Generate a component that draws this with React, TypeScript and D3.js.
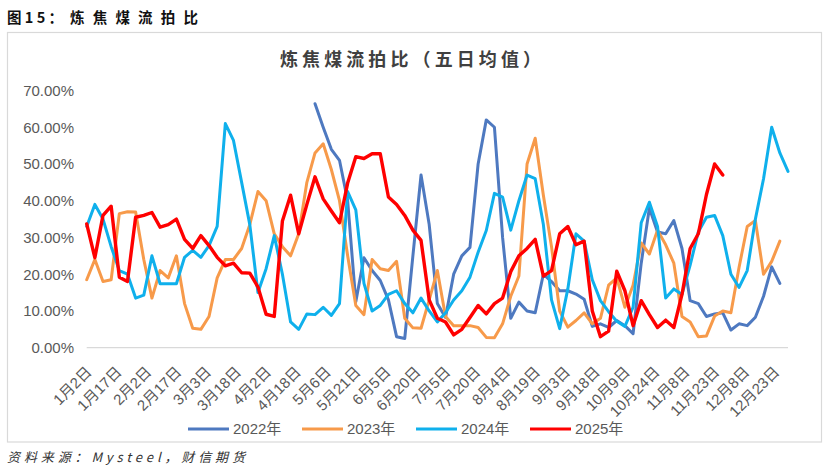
import React from "react";
import * as d3 from "d3";

const dateLabels = ["1月2日","1月17日","2月2日","2月17日","3月3日","3月18日","4月2日","4月18日","5月6日","5月21日","6月5日","6月20日","7月5日","7月20日","8月4日","8月19日","9月3日","9月18日","10月9日","10月24日","11月8日","11月23日","12月8日","12月23日"];
const labelEvery = 11; // trading days between labels
const sampleStep = 3; // trading days between stored samples
const totalDays = 258;

const yTicks = [0, 10, 20, 30, 40, 50, 60, 70];

const start2022 = 28;
const s2022 = [66.4,60,54,51,40,12.5,24.5,21,18.3,13,3,2.5,25,47,33.5,12,8.2,20,25,27.3,50,62,60,30,8,12.4,10,9.5,20,18,15.5,15.5,14.6,13.2,5.8,6.5,5.5,7.4,6,3.8,23,38,31.5,31,34.6,27,12.8,12,8.5,9.2,9.5,4.8,6.5,6,8.3,14,22,17.5];

const s2023 = [18.5,24,18,18.5,36.5,37,36.9,24,13.5,21,19,25,12,5.3,5,8.5,19,24,24,27,33.5,42.5,40,31,27.5,25,31,45,53,55.5,48.5,40,25,11.5,9,24,21.5,21,23.5,8,5.4,5.3,13,21,8.5,6,6,6,5.5,2.8,2.7,6.5,14,19.5,50,57,41.5,27.5,10,5.6,7.4,9.5,6.5,8,17,19,11,17,28.5,25.5,32,28,23,8.5,7,3,3.2,8.6,10,9.5,21.9,33,34.6,20,23.5,29];

const s2024 = [33,39,35,27.5,21,20,13.5,14.3,25,17.4,17.4,17.4,24.6,26.5,24.6,27.8,33,61,56.4,45,33.5,15,21.5,30.5,20,7,5,9.2,9,11,8.8,12,42.5,37.5,17.5,10,11.5,14.5,15.5,12,9.5,13.5,10,7,9.5,13,15.5,19.2,26,31.9,42,41,32,40,47,46,33.5,13,5.2,16,31,29,18.5,12.8,9.8,7.2,5.8,11,34,39.6,33,13.5,16,14.5,22.5,31.5,35.5,36,30.5,20,16.4,21,35,46,60,53,48];

const s2025 = [33.7,24.5,36,38.5,19.2,18,35.5,36,36.8,32.8,33.5,35,29.5,27,30.5,27.8,24.6,22.3,23,20.4,20.3,16.5,9.1,8.5,34.5,41.5,31,39,46.5,40.5,37.2,34,44.8,52,51.5,52.8,52.8,41,39,36,32,29.2,13,8,7,3.5,5,8.2,11.5,9.2,12,13.5,20.7,25,27,29.5,19.5,21,31,33,28,29,10,3,4.5,20.8,15.5,6,12.8,9,5.5,7.5,5.5,14.5,27,31,41.7,50,47];

const seriesNames = ["2022年", "2023年", "2024年", "2025年"];
const seriesColors = ["#4E79C0", "#F79A4A", "#0FB0EC", "#FF0000"];

const W = 830, H = 468;

export default function App() {
  const x = d3.scaleLinear().domain([0, totalDays]).range([86.7, 788]);
  const y = d3.scaleLinear().domain([0, 70]).range([347.7, 90.5]);

  const toPts = (vals: number[], startSample: number) =>
    vals.map((v, i) => [(startSample + i) * sampleStep, v] as [number, number]);

  const line = d3
    .line<[number, number]>()
    .x((d) => x(d[0]))
    .y((d) => y(d[1]));

  const series = [
    toPts(s2022, start2022),
    toPts(s2023, 0),
    toPts(s2024, 0),
    toPts(s2025, 0),
  ];
  const widths = [3, 3, 3, 3.4];

  const latin = '"Liberation Sans", Arial, "Noto Sans CJK SC", sans-serif';
  const cjk = '"Noto Sans CJK SC", sans-serif';
  const legendX = [188, 302, 416, 530];

  return (
    <svg width={W} height={H} style={{ position: "absolute", left: 0, top: 0, display: "block", background: "#fff" }}>
      <text x={7} y={22.5} fontFamily={cjk} fontWeight={700} fontSize={14.5} fill="#111" textLength={56} lengthAdjust="spacing">
        图15：
      </text>
      <text x={70} y={22.5} fontFamily={cjk} fontWeight={700} fontSize={14.5} fill="#111" textLength={128} lengthAdjust="spacing">
        炼焦煤流拍比
      </text>
      <rect x={7.5} y={32.5} width={814} height={409.5} fill="#fff" stroke="#D9D9D9" strokeWidth={1.2} />
      <text x={280} y={66} fontFamily={cjk} fontWeight={700} fontSize={18} fill="#404040" textLength={261} lengthAdjust="spacing">
        炼焦煤流拍比（五日均值）
      </text>

      {yTicks.map((t) => (
        <text key={t} x={74} y={y(t)} dy="0.36em" textAnchor="end" fontFamily={latin} fontSize={15} fill="#595959">
          {t.toFixed(2) + "%"}
        </text>
      ))}
      <line x1={x(0)} x2={x(totalDays)} y1={y(0)} y2={y(0)} stroke="#D9D9D9" strokeWidth={1.3} />

      {dateLabels.map((lb, i) => {
        const px = x(i * labelEvery) + 2;
        const py = 369;
        return (
          <text key={lb} x={px} y={py} transform={`rotate(-45 ${px} ${py})`} textAnchor="end" dominantBaseline="central" fontFamily={latin} fontSize={15} fill="#595959">
            {lb}
          </text>
        );
      })}

      {series.map((pts, i) => (
        <path key={i} d={line(pts) || ""} fill="none" stroke={seriesColors[i]} strokeWidth={widths[i]} strokeLinejoin="round" strokeLinecap="round" />
      ))}

      {seriesNames.map((nm, i) => (
        <g key={nm}>
          <line x1={legendX[i]} x2={legendX[i] + 41} y1={429} y2={429} stroke={seriesColors[i]} strokeWidth={3} />
          <text x={legendX[i] + 45} y={429} dy="0.36em" fontFamily={latin} fontSize={15} fill="#595959">
            {nm}
          </text>
        </g>
      ))}

      <text x={7} y={462} fontFamily={cjk} fontStyle="italic" fontSize={13} fill="#333" textLength={238} lengthAdjust="spacing">
        资料来源：Mysteel，财信期货
      </text>
    </svg>
  );
}
